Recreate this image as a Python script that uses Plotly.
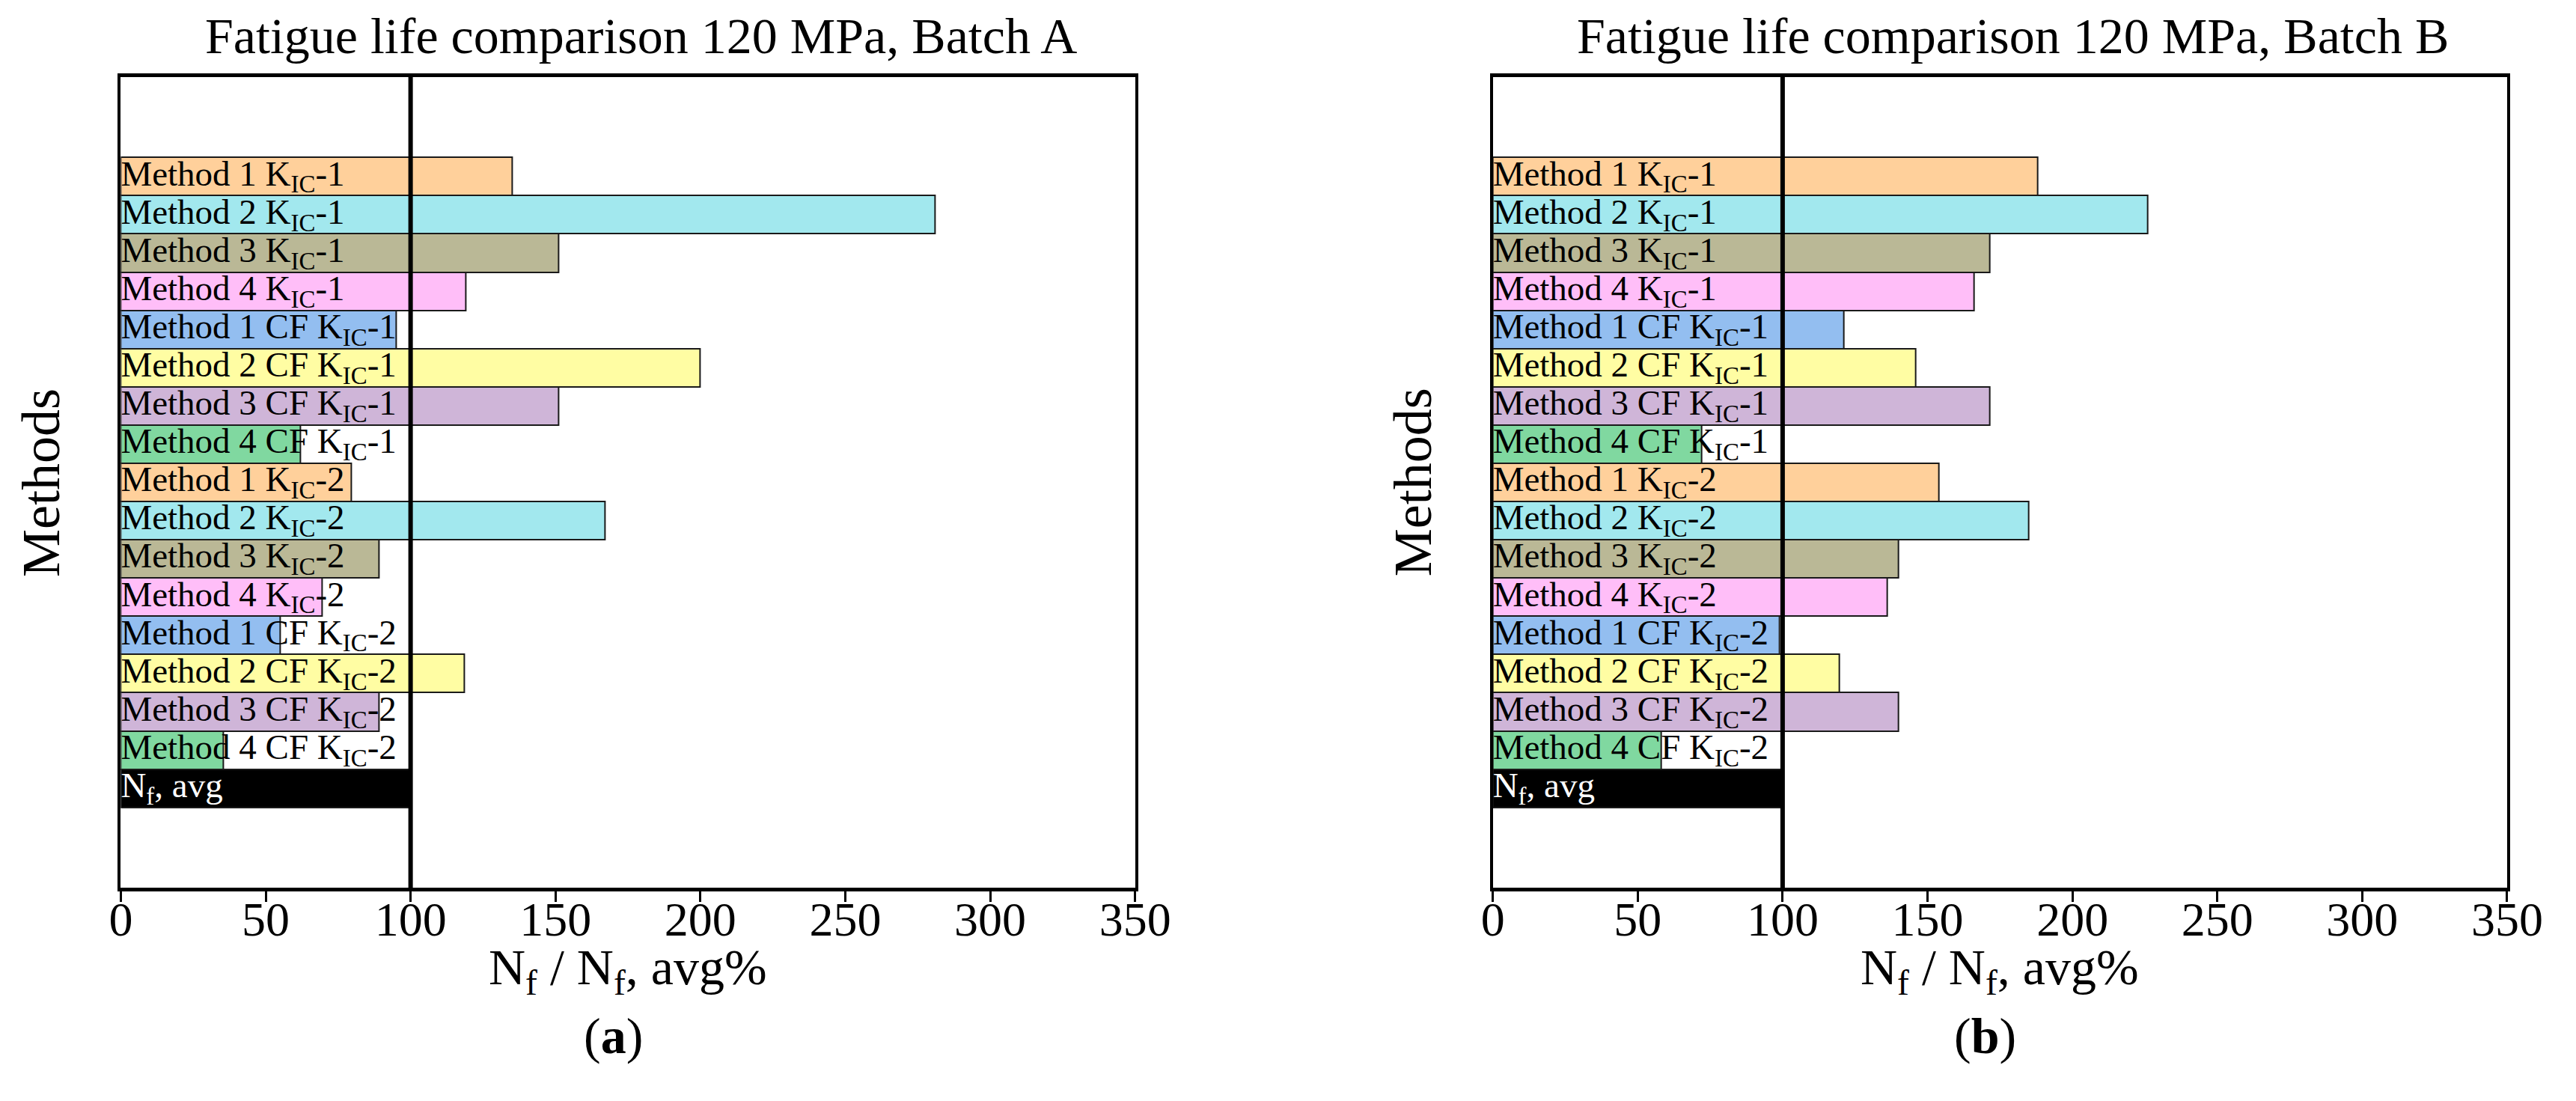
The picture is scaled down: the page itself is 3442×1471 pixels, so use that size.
import plotly.graph_objects as go

# ---------------- data ----------------
CATEGORIES = [
    "Method 1 KIC-1", "Method 2 KIC-1", "Method 3 KIC-1", "Method 4 KIC-1",
    "Method 1 CF KIC-1", "Method 2 CF KIC-1", "Method 3 CF KIC-1", "Method 4 CF KIC-1",
    "Method 1 KIC-2", "Method 2 KIC-2", "Method 3 KIC-2", "Method 4 KIC-2",
    "Method 1 CF KIC-2", "Method 2 CF KIC-2", "Method 3 CF KIC-2", "Method 4 CF KIC-2",
    "Nf, avg",
]
BAR_LABELS = [
    "Method 1 K<sub>IC</sub>-1", "Method 2 K<sub>IC</sub>-1", "Method 3 K<sub>IC</sub>-1", "Method 4 K<sub>IC</sub>-1",
    "Method 1 CF K<sub>IC</sub>-1", "Method 2 CF K<sub>IC</sub>-1", "Method 3 CF K<sub>IC</sub>-1", "Method 4 CF K<sub>IC</sub>-1",
    "Method 1 K<sub>IC</sub>-2", "Method 2 K<sub>IC</sub>-2", "Method 3 K<sub>IC</sub>-2", "Method 4 K<sub>IC</sub>-2",
    "Method 1 CF K<sub>IC</sub>-2", "Method 2 CF K<sub>IC</sub>-2", "Method 3 CF K<sub>IC</sub>-2", "Method 4 CF K<sub>IC</sub>-2",
    "N<sub>f</sub>, avg",
]
METHOD_KEYS = ["M1", "M2", "M3", "M4", "M1CF", "M2CF", "M3CF", "M4CF",
               "M1", "M2", "M3", "M4", "M1CF", "M2CF", "M3CF", "M4CF", "AVG"]
VALUES_A = [135, 281, 151, 119, 95, 200, 151, 62,
            79.5, 167, 89, 69.5, 55, 118.5, 89, 35.5, 100]
VALUES_B = [188, 226, 171.5, 166, 121, 146, 171.5, 72,
            154, 185, 140, 136, 99, 119.5, 140, 58, 100]
X_TICKS = [0, 50, 100, 150, 200, 250, 300, 350]
PANEL_TITLES = ["Fatigue life comparison 120 MPa, Batch A",
                "Fatigue life comparison 120 MPa, Batch B"]
PANEL_CAPTIONS = ["(<b>a</b>)", "(<b>b</b>)"]
X_TITLE = "N<sub>f</sub> / N<sub>f</sub>, avg%"
Y_TITLE = "Methods"
REFERENCE_LEVEL = 100

# ---------------- style ----------------
COLORS = {
    "M1": "#FFD09B", "M2": "#A2E8EE", "M3": "#BAB896", "M4": "#FFBEF8",
    "M1CF": "#93BEF0", "M2CF": "#FFFDA3", "M3CF": "#CFB5D8", "M4CF": "#80D8A0",
    "AVG": "#000000",
}
FONT = "Liberation Serif"
W, H = 3442, 1471
X_DOMAINS = [[140 / W, 1521 / W], [2008 / W, 3389 / W]]
Y_DOMAIN = [1 - 1178 / H, 1 - 95 / H]

fig = go.Figure()
annotations = []
shapes = []
for i, vals in enumerate([VALUES_A, VALUES_B]):
    xa = "x" if i == 0 else "x2"
    ya = "y" if i == 0 else "y2"
    fig.add_trace(go.Bar(
        x=vals, y=CATEGORIES, orientation="h",
        marker=dict(color=[COLORS[k] for k in METHOD_KEYS],
                    line=dict(color="#1a1a1a", width=2)),
        xaxis=xa, yaxis=ya, showlegend=False, hoverinfo="x+y",
    ))
    fig.add_trace(go.Scatter(
        x=[0] * len(CATEGORIES), y=CATEGORIES, mode="text",
        text=BAR_LABELS, textposition="middle right",
        textfont=dict(family=FONT, size=47,
                      color=["white" if k == "AVG" else "black" for k in METHOD_KEYS]),
        xaxis=xa, yaxis=ya, showlegend=False, hoverinfo="skip", cliponaxis=False,
    ))
    shapes.append(dict(type="line", xref=xa, yref=f"{ya} domain",
                       x0=REFERENCE_LEVEL, x1=REFERENCE_LEVEL, y0=0, y1=1,
                       line=dict(color="black", width=6), layer="above"))
    xc = (X_DOMAINS[i][0] + X_DOMAINS[i][1]) / 2
    annotations.append(dict(text=PANEL_TITLES[i], xref="paper", yref="paper",
                            x=xc + 18 / W, y=1, showarrow=False,
                            xanchor="center", yanchor="top",
                            font=dict(family=FONT, size=68, color="black")))
    annotations.append(dict(text=X_TITLE, xref="paper", yref="paper",
                            x=xc, y=1 - 1288 / H, showarrow=False,
                            xanchor="center", yanchor="middle",
                            font=dict(family=FONT, size=68, color="black")))
    annotations.append(dict(text=PANEL_CAPTIONS[i], xref="paper", yref="paper",
                            x=xc - 20 / W, y=1 - 1376 / H, showarrow=False,
                            xanchor="center", yanchor="middle",
                            font=dict(family=FONT, size=68, color="black")))
    annotations.append(dict(text=Y_TITLE, xref="paper", yref="paper",
                            x=X_DOMAINS[i][0] - 108 / W, y=(Y_DOMAIN[0] + Y_DOMAIN[1]) / 2,
                            textangle=-90, showarrow=False,
                            xanchor="center", yanchor="middle",
                            font=dict(family=FONT, size=72, color="black")))

xaxis_common = dict(range=[0, 350], tickvals=X_TICKS, ticktext=[str(t) for t in X_TICKS],
                    ticks="outside", ticklen=14, tickwidth=3, tickcolor="black",
                    ticklabelstandoff=-32,
                    showline=True, linecolor="black", linewidth=5, mirror=True,
                    showgrid=False, zeroline=False,
                    tickfont=dict(family=FONT, size=64, color="black"))
yaxis_common = dict(type="category", range=[18.6, -2.6], showticklabels=False,
                    ticks="", showline=True, linecolor="black", linewidth=4,
                    mirror=True, showgrid=False, zeroline=False, domain=Y_DOMAIN)

fig.update_layout(
    width=W, height=H,
    margin=dict(l=0, r=0, t=0, b=0),
    paper_bgcolor="white", plot_bgcolor="white",
    bargap=0,
    xaxis=dict(domain=X_DOMAINS[0], anchor="y", **xaxis_common),
    yaxis=dict(anchor="x", **yaxis_common),
    xaxis2=dict(domain=X_DOMAINS[1], anchor="y2", **xaxis_common),
    yaxis2=dict(anchor="x2", **yaxis_common),
    annotations=annotations,
    shapes=shapes,
    showlegend=False,
)

fig.write_html("out.html")
